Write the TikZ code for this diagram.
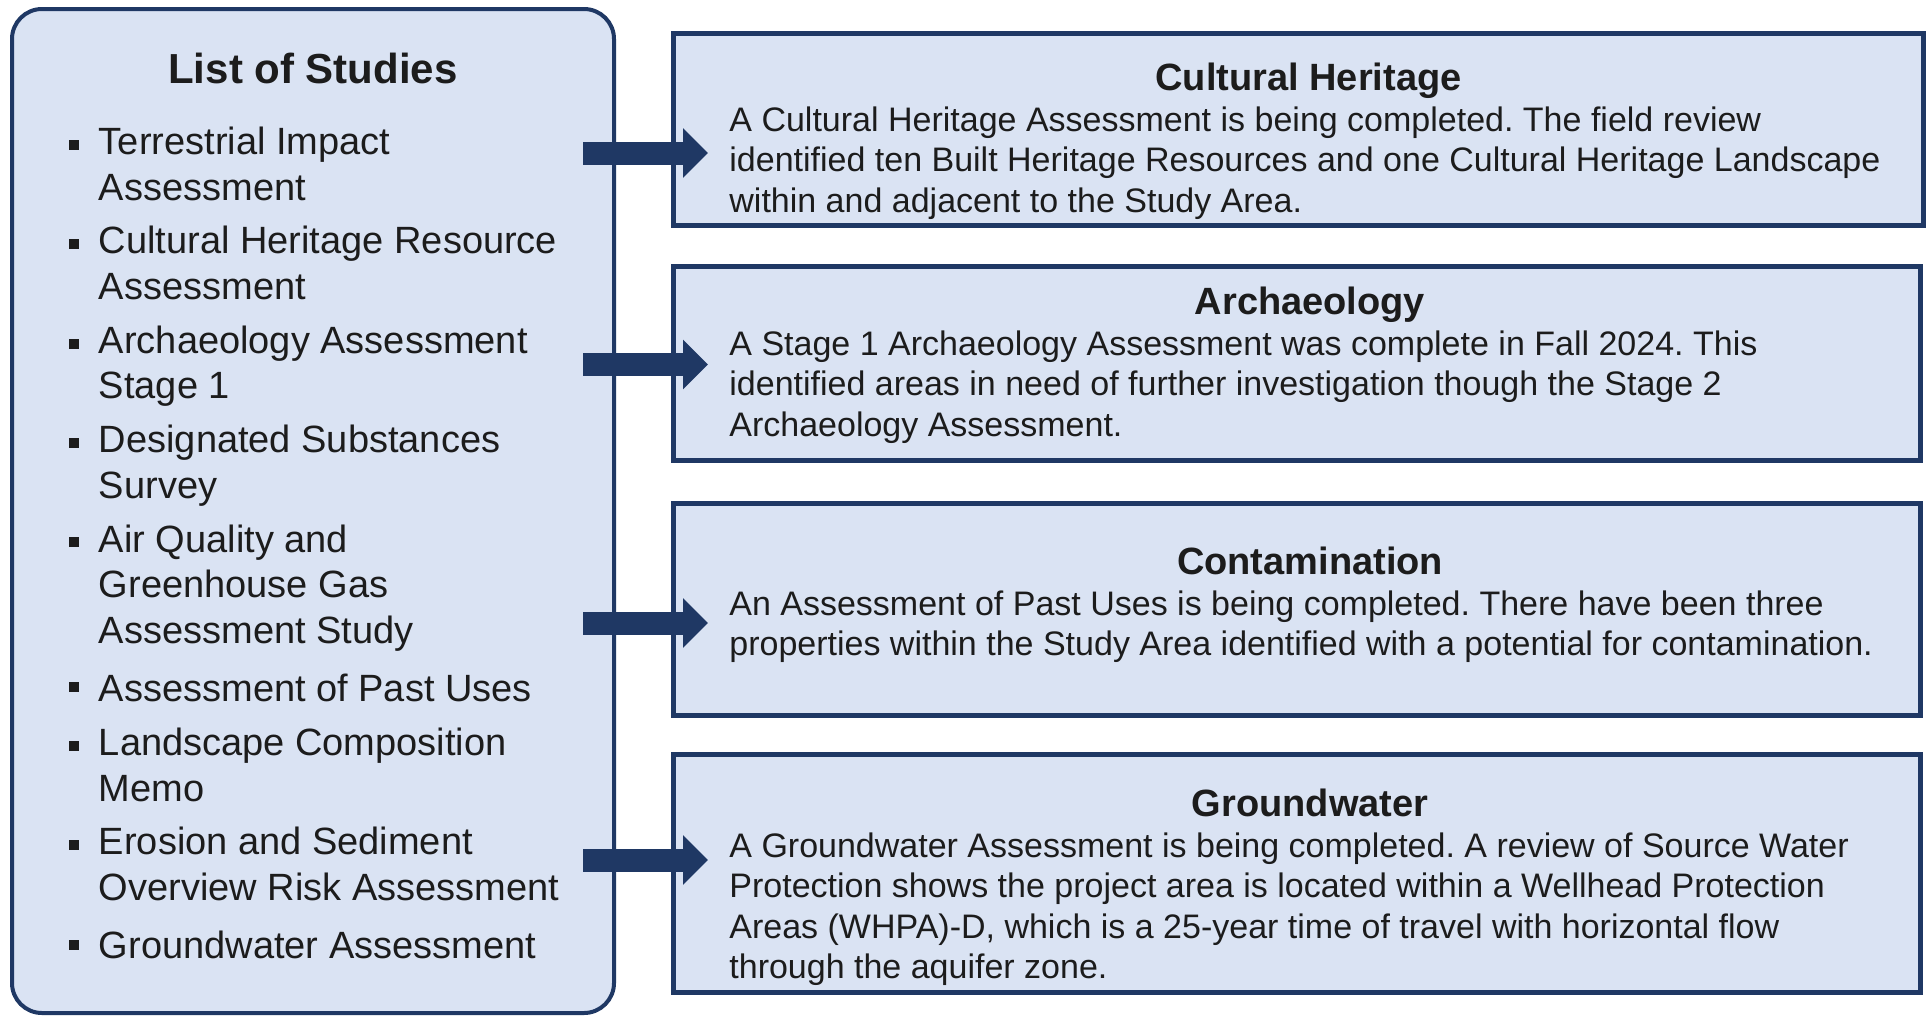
\documentclass[tikz,border=0pt]{standalone}
\usepackage{fontspec}
\setmainfont{Liberation Sans}
\usetikzlibrary{positioning,calc,arrows.meta}
\frenchspacing

\definecolor{navy}{RGB}{31,56,100}
\definecolor{paleblue}{RGB}{218,227,243}
\definecolor{ink}{RGB}{28,28,28}

\tikzset{
  panel/.style={draw=navy, fill=paleblue, line width=2.5pt, outer sep=0pt, minimum width=623.5pt},
  listbox/.style={draw=navy, fill=paleblue, line width=2pt, rounded corners=15pt, outer sep=0pt,
    minimum width=301pt, minimum height=502pt},
  head/.style={font=\fontsize{19}{22.8}\selectfont\bfseries, text height=14pt, text depth=4pt,
    inner sep=0pt, text=ink},
  listhead/.style={font=\fontsize{21}{25}\selectfont\bfseries, text height=15.5pt, text depth=4.5pt,
    inner sep=0pt, text=ink},
  study/.style={font=\fontsize{19}{22.8}\selectfont, align=left, inner sep=0pt, text=ink,
    execute at begin node=\strut, execute at end node=\strut},
  body/.style={font=\fontsize{17}{20.3}\selectfont, align=left, inner sep=0pt, anchor=north west,
    text=ink, execute at begin node=\strut, execute at end node=\strut},
  bul/.style={fill=ink, minimum width=4.6pt, minimum height=5pt, inner sep=0pt},
  fatarrow/.style={navy, line width=11.5pt, -{Triangle[length=12.5pt,width=24pt]}}
}

\begin{document}
\begin{tikzpicture}[x=0.5pt,y=-0.5pt]
  \fill[white] (0,0) rectangle (1931,1017);
  \useasboundingbox (0,0) rectangle (1931,1017);

  % list of studies
  \node[listbox] (list) at (313,511) {};
  \node[listhead, below=21.5pt of list.north] (lhead) {List of Studies};

  \node[study, anchor=north west] (s1) at ($(list.west |- lhead.south)+(43.25pt,-16.9pt)$)
    {Terrestrial Impact\\Assessment};
  \node[study, below right=5.9pt and 0pt of s1.south west] (s2) {Cultural Heritage Resource\\Assessment};
  \node[study, below right=5.9pt and 0pt of s2.south west] (s3) {Archaeology Assessment\\Stage 1};
  \node[study, below right=5.9pt and 0pt of s3.south west] (s4) {Designated Substances\\Survey};
  \node[study, below right=5.9pt and 0pt of s4.south west] (s5) {Air Quality and\\Greenhouse Gas\\Assessment Study};
  \node[study, below right=5.9pt and 0pt of s5.south west] (s6) {Assessment of Past Uses};
  \node[study, below right=5.9pt and 0pt of s6.south west] (s7) {Landscape Composition\\Memo};
  \node[study, below right=5.9pt and 0pt of s7.south west] (s8) {Erosion and Sediment\\Overview Risk Assessment};
  \node[study, below right=5.9pt and 0pt of s8.south west] (s9) {Groundwater Assessment};

  \foreach \i in {1,...,9}
    \node[bul] (b\i) at ($(s\i.north west)+(-12.25pt,-9.1pt)$) {};

  % result panels
  \node[panel, minimum height=96pt, minimum width=625pt] (cult) at (1298.5,129.5) {};
  \node[panel, minimum height=97pt, below=20.5pt of cult, xshift=-0.75pt] (arch) {};
  \node[panel, minimum height=106pt, below=21.5pt of arch] (cont) {};
  \node[panel, minimum height=119pt, below=19.5pt of cont] (gw) {};

  \node[head, below=14.25pt of cult.north, xshift=5pt] (cultT) {Cultural Heritage};
  \node[body] (cultB) at ($(cult.west |- cultT.south)+(27.75pt,-3.6pt)$)
    {A Cultural Heritage Assessment is being completed. The field review\\
     identified ten Built Heritage Resources and one Cultural Heritage Landscape\\
     within and adjacent to the Study Area.};

  \node[head, below=9.75pt of arch.north, xshift=6.5pt] (archT) {Archaeology};
  \node[body] (archB) at ($(arch.west |- archT.south)+(27.75pt,-3.6pt)$)
    {A Stage 1 Archaeology Assessment was complete in Fall 2024. This\\
     identified areas in need of further investigation though the Stage 2\\
     Archaeology Assessment.};

  \node[head, below=21.25pt of cont.north, xshift=6.5pt] (contT) {Contamination};
  \node[body] (contB) at ($(cont.west |- contT.south)+(27.75pt,-3.6pt)$)
    {An Assessment of Past Uses is being completed. There have been three\\
     properties within the Study Area identified with a potential for contamination.};

  \node[head, below=16.75pt of gw.north, xshift=6.5pt] (gwT) {Groundwater};
  \node[body] (gwB) at ($(gw.west |- gwT.south)+(27.75pt,-3.6pt)$)
    {A Groundwater Assessment is being completed. A review of Source Water\\
     Protection shows the project area is located within a Wellhead Protection\\
     Areas (WHPA)-D, which is a 25-year time of travel with horizontal flow\\
     through the aquifer zone.};

  % arrows
  \coordinate (t1) at (708,153);
  \coordinate (t2) at (708,364.5);
  \coordinate (t3) at (708,623);
  \coordinate (t4) at (708,860);
  \foreach \i in {1,...,4}
    \draw[fatarrow] ($(list.east |- t\i)+(-15.5pt,0pt)$) -- (t\i);
\end{tikzpicture}
\end{document}
